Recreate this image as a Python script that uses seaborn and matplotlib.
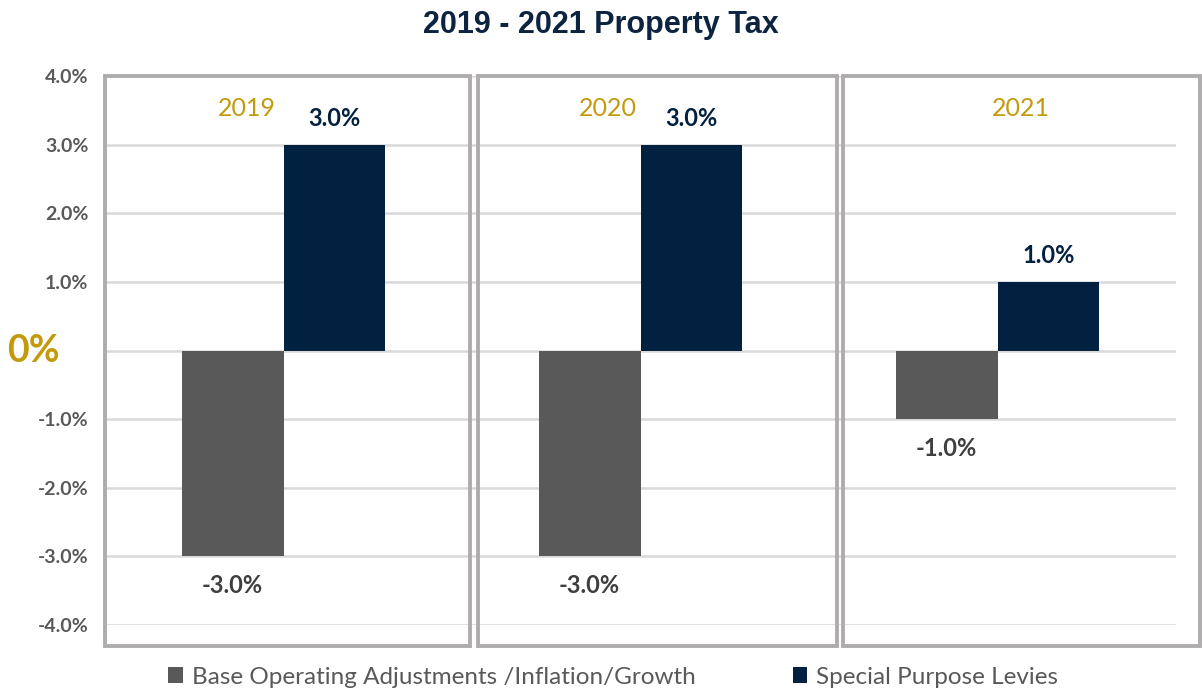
import numpy as np
import pandas as pd
import matplotlib
matplotlib.use('Agg')
import matplotlib.pyplot as plt
from matplotlib.patches import Rectangle
import seaborn as sns

years = ['2019', '2020', '2021']
base_ops = [-3.0, -3.0, -1.0]
special_levies = [3.0, 3.0, 1.0]
series_names = ['Base Operating Adjustments /Inflation/Growth', 'Special Purpose Levies']
yticks = [-4, -3, -2, -1, 0, 1, 2, 3, 4]

GRAY = '#595959'
NAVY = '#022140'
GOLD = '#C39A0C'
BOX = '#AEACAC'

df = pd.DataFrame({
    'year': years * 2,
    'series': [series_names[0]] * 3 + [series_names[1]] * 3,
    'value': base_ops + special_levies,
})

sns.set_style('white')
plt.rcParams['font.family'] = ['Lato', 'DejaVu Sans']

fig = plt.figure(figsize=(12.02, 6.9), dpi=100)
ax = fig.add_axes([105 / 1202, 1 - 625 / 690, 1071 / 1202, 549 / 690])

sns.barplot(data=df, x='year', y='value', hue='series', order=years, hue_order=series_names,
            palette=[GRAY, NAVY], width=0.57, saturation=1, linewidth=0, ax=ax, legend=True)

ax.set_xlim(-0.5, 2.5)
ax.set_ylim(-4, 4)
ax.set_yticks(yticks)
ax.set_yticklabels([f'{t:.1f}%' if t != 0 else '' for t in yticks],
                   fontsize=14, fontweight='bold', color=GRAY)
ax.tick_params(axis='y', length=0, pad=12)
ax.set_xticks([])
ax.set_xlabel(''); ax.set_ylabel('')
for s in ax.spines.values():
    s.set_visible(False)
ax.grid(axis='y', color='#D9D9D9', lw=1.8, zorder=0)
ax.set_axisbelow(True)

# value labels
for cont, col, off in zip(ax.containers, ['#3F3F3F', NAVY], [-0.43, 0.38]):
    for bar, v in zip(cont, cont.datavalues):
        ax.text(bar.get_x() + bar.get_width() / 2, v + off, f'{v:.1f}%', ha='center', va='center',
                fontsize=17, fontweight='bold', color=col)

# year labels and group boxes
year_dx = [-0.102, -0.091, 0.066]
box_edges = [(-0.5, 0.522), (0.545, 1.55), (1.567, 2.567)]
for i, (y, dx) in enumerate(zip(years, year_dx)):
    ax.text(i + dx, 3.53, y, ha='center', va='center', fontsize=18, color=GOLD)
    x0, x1 = box_edges[i]
    ax.add_patch(Rectangle((x0, -4.3), x1 - x0, 8.3, fill=False, ec=BOX, lw=2.8,
                           clip_on=False, zorder=5))

ax.text(-0.042, 0, '0%', transform=ax.get_yaxis_transform(), ha='right', va='center',
        fontsize=27, fontweight='bold', color=GOLD)

fig.text(0.5, 1 - 25 / 690, '2019 - 2021 Property Tax', ha='center', va='center',
         fontsize=22, fontweight='bold', color='#0D2441', family=['Liberation Sans', 'DejaVu Sans'])

handles, labels = ax.get_legend_handles_labels()
ax.legend_.remove()
fig.legend(handles, labels, loc='center', bbox_to_anchor=(0.51, 1 - 677 / 690), ncol=2,
           frameon=False, fontsize=17.5, handlelength=0.6, handleheight=0.6, handletextpad=0.35,
           columnspacing=4.0, labelcolor=GRAY, borderpad=0)

fig.savefig('out.png', dpi=100)
